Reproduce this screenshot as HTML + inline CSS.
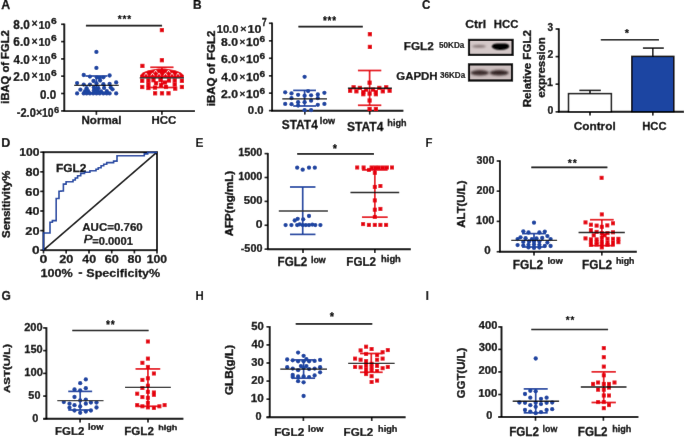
<!DOCTYPE html>
<html><head><meta charset="utf-8"><style>
html,body{margin:0;padding:0;background:#fff;width:685px;height:437px;overflow:hidden}
svg{display:block}
text{font-family:"Liberation Sans",sans-serif;white-space:pre;stroke:currentColor;stroke-width:0.25px}
</style></head><body>
<svg width="685" height="437" viewBox="0 0 685 437">
<defs><filter id="soft" x="0" y="0" width="100%" height="100%" filterUnits="userSpaceOnUse"><feConvolveMatrix order="3" kernelMatrix="0.0016 0.0371 0.0016 0.0371 0.8450 0.0371 0.0016 0.0371 0.0016" preserveAlpha="true" edgeMode="duplicate"/></filter></defs>
<g filter="url(#soft)">
<rect width="685" height="437" fill="#fff"/>
<text transform="translate(1.19,8.8) scale(1.042,1)" font-size="11.88" font-weight="bold" fill="#000" color="#000">A</text>
<line x1="64.3" y1="23.6" x2="64.3" y2="111.6" stroke="#000" stroke-width="1.9"/>
<line x1="61.1" y1="24.3" x2="64.3" y2="24.3" stroke="#000" stroke-width="1.6"/>
<line x1="61.1" y1="41.6" x2="64.3" y2="41.6" stroke="#000" stroke-width="1.6"/>
<line x1="61.1" y1="58.9" x2="64.3" y2="58.9" stroke="#000" stroke-width="1.6"/>
<line x1="61.1" y1="76.2" x2="64.3" y2="76.2" stroke="#000" stroke-width="1.6"/>
<line x1="61.1" y1="93.5" x2="64.3" y2="93.5" stroke="#000" stroke-width="1.6"/>
<line x1="61.1" y1="110.9" x2="64.3" y2="110.9" stroke="#000" stroke-width="1.6"/>
<line x1="63.5" y1="111.1" x2="195" y2="111.1" stroke="#000" stroke-width="1.9"/>
<line x1="96.4" y1="111.1" x2="96.4" y2="114.8" stroke="#000" stroke-width="1.6"/>
<line x1="161.9" y1="111.1" x2="161.9" y2="114.8" stroke="#000" stroke-width="1.6"/>
<text transform="translate(13.35,29.1) scale(0.997,1)" font-size="11.86" font-weight="bold" fill="#000" color="#000">8.0</text>
<text transform="translate(31.43,27.33) scale(1.010,1)" font-size="10.40" font-weight="bold" fill="#000" color="#000">×</text>
<text transform="translate(38.49,28.9) scale(0.970,1)" font-size="11.29" font-weight="bold" fill="#000" color="#000">10</text>
<text transform="translate(50.94,23.9) scale(1.128,1)" font-size="9.14" font-weight="bold" fill="#000" color="#000">6</text>
<text transform="translate(13.28,46.4) scale(1.001,1)" font-size="11.86" font-weight="bold" fill="#000" color="#000">6.0</text>
<text transform="translate(31.43,44.63) scale(1.010,1)" font-size="10.40" font-weight="bold" fill="#000" color="#000">×</text>
<text transform="translate(38.49,46.2) scale(0.970,1)" font-size="11.29" font-weight="bold" fill="#000" color="#000">10</text>
<text transform="translate(50.94,41.2) scale(1.128,1)" font-size="9.14" font-weight="bold" fill="#000" color="#000">6</text>
<text transform="translate(13.52,63.7) scale(0.986,1)" font-size="11.86" font-weight="bold" fill="#000" color="#000">4.0</text>
<text transform="translate(31.43,61.93) scale(1.010,1)" font-size="10.40" font-weight="bold" fill="#000" color="#000">×</text>
<text transform="translate(38.49,63.5) scale(0.970,1)" font-size="11.29" font-weight="bold" fill="#000" color="#000">10</text>
<text transform="translate(50.94,58.5) scale(1.128,1)" font-size="9.14" font-weight="bold" fill="#000" color="#000">6</text>
<text transform="translate(13.28,81) scale(1.001,1)" font-size="11.86" font-weight="bold" fill="#000" color="#000">2.0</text>
<text transform="translate(31.43,79.23) scale(1.010,1)" font-size="10.40" font-weight="bold" fill="#000" color="#000">×</text>
<text transform="translate(38.49,80.8) scale(0.970,1)" font-size="11.29" font-weight="bold" fill="#000" color="#000">10</text>
<text transform="translate(50.94,75.8) scale(1.128,1)" font-size="9.14" font-weight="bold" fill="#000" color="#000">6</text>
<text transform="translate(40.04,99.1) scale(0.944,1)" font-size="12.29" font-weight="bold" fill="#000" color="#000">0.0</text>
<text transform="translate(16.76,116.9) scale(0.893,1)" font-size="12.43" font-weight="bold" fill="#000" color="#000">-2.0</text>
<text transform="translate(35.92,115.63) scale(1.030,1)" font-size="10.40" font-weight="bold" fill="#000" color="#000">×</text>
<text transform="translate(42.02,116.9) scale(0.841,1)" font-size="12.43" font-weight="bold" fill="#000" color="#000">10</text>
<text transform="translate(53.98,113) scale(1.048,1)" font-size="8.86" font-weight="bold" fill="#000" color="#000">6</text>
<text transform="translate(9.3,103.69) rotate(-90) scale(1.017,1)" font-size="11.03" font-weight="bold" fill="#000" color="#000" style="stroke-width:0.35px">iBAQ of FGL2</text>
<text transform="translate(81.45,124.4) scale(1.038,1)" font-size="11.17" font-weight="bold" fill="#000" color="#000">Normal</text>
<text transform="translate(151.55,123.9) scale(1.029,1)" font-size="11.14" font-weight="bold" fill="#000" color="#000">HCC</text>
<line x1="85.9" y1="25.6" x2="162.1" y2="25.6" stroke="#000" stroke-width="1.7"/>
<text transform="translate(117.75,23.35) scale(0.910,1)" font-size="11.08" font-weight="bold" fill="#000" color="#000" style="stroke-width:0.2px">*</text>
<text transform="translate(122.48,23.35) scale(0.910,1)" font-size="11.08" font-weight="bold" fill="#000" color="#000" style="stroke-width:0.2px">*</text>
<text transform="translate(127.22,23.35) scale(0.910,1)" font-size="11.08" font-weight="bold" fill="#000" color="#000" style="stroke-width:0.2px">*</text>
<line x1="96.4" y1="76" x2="96.4" y2="93" stroke="#1c45a2" stroke-width="1.7"/>
<line x1="85.4" y1="76" x2="107.4" y2="76" stroke="#1c45a2" stroke-width="1.7"/>
<line x1="85.4" y1="93" x2="107.4" y2="93" stroke="#1c45a2" stroke-width="1.7"/>
<circle cx="96.4" cy="51.9" r="2.15" fill="#1c45a2"/>
<circle cx="96.4" cy="67.9" r="2.15" fill="#1c45a2"/>
<circle cx="83.7" cy="75" r="2.15" fill="#1c45a2"/>
<circle cx="89.9" cy="76.6" r="2.15" fill="#1c45a2"/>
<circle cx="96.8" cy="77.3" r="2.15" fill="#1c45a2"/>
<circle cx="99.7" cy="78" r="2.15" fill="#1c45a2"/>
<circle cx="103.4" cy="77.3" r="2.15" fill="#1c45a2"/>
<circle cx="109.6" cy="75.5" r="2.15" fill="#1c45a2"/>
<circle cx="93.5" cy="81" r="2.15" fill="#1c45a2"/>
<circle cx="100.1" cy="80.6" r="2.15" fill="#1c45a2"/>
<circle cx="77.1" cy="83.1" r="2.15" fill="#1c45a2"/>
<circle cx="83.7" cy="84.6" r="2.15" fill="#1c45a2"/>
<circle cx="89.9" cy="84.6" r="2.15" fill="#1c45a2"/>
<circle cx="96.5" cy="83.5" r="2.15" fill="#1c45a2"/>
<circle cx="103.4" cy="84.2" r="2.15" fill="#1c45a2"/>
<circle cx="109.6" cy="83.9" r="2.15" fill="#1c45a2"/>
<circle cx="116.2" cy="82.4" r="2.15" fill="#1c45a2"/>
<circle cx="80.4" cy="89.7" r="2.15" fill="#1c45a2"/>
<circle cx="86.6" cy="88.2" r="2.15" fill="#1c45a2"/>
<circle cx="93.9" cy="87.5" r="2.15" fill="#1c45a2"/>
<circle cx="98.3" cy="88.2" r="2.15" fill="#1c45a2"/>
<circle cx="104.1" cy="87.9" r="2.15" fill="#1c45a2"/>
<circle cx="110.7" cy="87.5" r="2.15" fill="#1c45a2"/>
<circle cx="112.5" cy="89.3" r="2.15" fill="#1c45a2"/>
<circle cx="93.9" cy="90.4" r="2.15" fill="#1c45a2"/>
<circle cx="96.8" cy="89.7" r="2.15" fill="#1c45a2"/>
<circle cx="106.8" cy="91.2" r="2.15" fill="#1c45a2"/>
<circle cx="88.2" cy="91.2" r="2.15" fill="#1c45a2"/>
<circle cx="85.1" cy="91.2" r="2.15" fill="#1c45a2"/>
<circle cx="97.5" cy="91.5" r="2.15" fill="#1c45a2"/>
<circle cx="101" cy="91.5" r="2.15" fill="#1c45a2"/>
<circle cx="77.1" cy="93.4" r="2.15" fill="#1c45a2"/>
<circle cx="83.7" cy="93.4" r="2.15" fill="#1c45a2"/>
<circle cx="86.6" cy="93.4" r="2.15" fill="#1c45a2"/>
<circle cx="89.9" cy="93.4" r="2.15" fill="#1c45a2"/>
<circle cx="93.2" cy="93.4" r="2.15" fill="#1c45a2"/>
<circle cx="96.5" cy="93.4" r="2.15" fill="#1c45a2"/>
<circle cx="99.7" cy="93.4" r="2.15" fill="#1c45a2"/>
<circle cx="103.4" cy="93.4" r="2.15" fill="#1c45a2"/>
<circle cx="106.7" cy="93.4" r="2.15" fill="#1c45a2"/>
<circle cx="109.6" cy="93.4" r="2.15" fill="#1c45a2"/>
<circle cx="116.2" cy="93.4" r="2.15" fill="#1c45a2"/>
<line x1="74.2" y1="85.3" x2="118.7" y2="85.3" stroke="#111" stroke-width="1.35"/>
<rect x="159.8" y="28" width="4.2" height="4.2" fill="#e5000f"/>
<rect x="159.8" y="58.1" width="4.2" height="4.2" fill="#e5000f"/>
<rect x="140.3" y="63.8" width="4.2" height="4.2" fill="#e5000f"/>
<polygon fill="#e5000f" points="140,77.4 140,75.2 142.7,72.4 148.4,70.2 158.7,68.5 164.9,68.5 175.2,70.2 180.9,72.4 184,75.2 184,77.4"/>
<polyline fill="none" stroke="#fff" stroke-width="0.75" points="144.3,75.6 146,73 147.7,75.6"/>
<polyline fill="none" stroke="#fff" stroke-width="0.75" points="150.8,75.6 152.5,73 154.2,75.6"/>
<polyline fill="none" stroke="#fff" stroke-width="0.75" points="157.3,75.6 159,73 160.7,75.6"/>
<polyline fill="none" stroke="#fff" stroke-width="0.75" points="163.8,75.6 165.5,73 167.2,75.6"/>
<polyline fill="none" stroke="#fff" stroke-width="0.75" points="170.3,75.6 172,73 173.7,75.6"/>
<polyline fill="none" stroke="#fff" stroke-width="0.75" points="176.3,75.6 178,73 179.7,75.6"/>
<polyline fill="none" stroke="#fff" stroke-width="0.75" points="154,72.6 155.7,70 157.4,72.6"/>
<polyline fill="none" stroke="#fff" stroke-width="0.75" points="166.8,72.6 168.5,70 170.2,72.6"/>
<rect x="140.1" y="78.7" width="4.2" height="4.2" fill="#e5000f"/>
<rect x="140.1" y="84.9" width="4.2" height="4.2" fill="#e5000f"/>
<rect x="146.3" y="78.4" width="4.2" height="4.2" fill="#e5000f"/>
<rect x="146.3" y="82.2" width="4.2" height="4.2" fill="#e5000f"/>
<rect x="146.3" y="85.9" width="4.2" height="4.2" fill="#e5000f"/>
<rect x="151.4" y="78.1" width="4.2" height="4.2" fill="#e5000f"/>
<rect x="153.9" y="81.1" width="4.2" height="4.2" fill="#e5000f"/>
<rect x="158.4" y="78.1" width="4.2" height="4.2" fill="#e5000f"/>
<rect x="158.9" y="83.1" width="4.2" height="4.2" fill="#e5000f"/>
<rect x="162.9" y="80.4" width="4.2" height="4.2" fill="#e5000f"/>
<rect x="166.9" y="78.4" width="4.2" height="4.2" fill="#e5000f"/>
<rect x="163.9" y="84.9" width="4.2" height="4.2" fill="#e5000f"/>
<rect x="152.9" y="85.5" width="4.2" height="4.2" fill="#e5000f"/>
<rect x="172.6" y="78.4" width="4.2" height="4.2" fill="#e5000f"/>
<rect x="172.6" y="82.4" width="4.2" height="4.2" fill="#e5000f"/>
<rect x="173.1" y="86.5" width="4.2" height="4.2" fill="#e5000f"/>
<rect x="179.8" y="78.7" width="4.2" height="4.2" fill="#e5000f"/>
<rect x="179.8" y="84.9" width="4.2" height="4.2" fill="#e5000f"/>
<rect x="153" y="91.2" width="4.2" height="4.2" fill="#e5000f"/>
<rect x="159.9" y="91.2" width="4.2" height="4.2" fill="#e5000f"/>
<rect x="166.4" y="91.2" width="4.2" height="4.2" fill="#e5000f"/>
<line x1="161.9" y1="67.3" x2="161.9" y2="87.5" stroke="#e5000f" stroke-width="1.7"/>
<line x1="150.3" y1="67.3" x2="173.5" y2="67.3" stroke="#e5000f" stroke-width="1.7"/>
<line x1="150.3" y1="87.5" x2="173.5" y2="87.5" stroke="#e5000f" stroke-width="1.7"/>
<line x1="139.7" y1="77.8" x2="184" y2="77.8" stroke="#111" stroke-width="1.35"/>
<text transform="translate(193.02,8.9) scale(1.007,1)" font-size="11.88" font-weight="bold" fill="#000" color="#000">B</text>
<line x1="272.1" y1="22.6" x2="272.1" y2="111.3" stroke="#000" stroke-width="1.9"/>
<line x1="268.9" y1="23.3" x2="272.1" y2="23.3" stroke="#000" stroke-width="1.6"/>
<line x1="268.9" y1="40.8" x2="272.1" y2="40.8" stroke="#000" stroke-width="1.6"/>
<line x1="268.9" y1="58.3" x2="272.1" y2="58.3" stroke="#000" stroke-width="1.6"/>
<line x1="268.9" y1="75.8" x2="272.1" y2="75.8" stroke="#000" stroke-width="1.6"/>
<line x1="268.9" y1="93.2" x2="272.1" y2="93.2" stroke="#000" stroke-width="1.6"/>
<line x1="268.9" y1="110.6" x2="272.1" y2="110.6" stroke="#000" stroke-width="1.6"/>
<line x1="271.2" y1="110.8" x2="403.4" y2="110.8" stroke="#000" stroke-width="1.9"/>
<line x1="304.8" y1="110.8" x2="304.8" y2="114.5" stroke="#000" stroke-width="1.6"/>
<line x1="369.7" y1="110.8" x2="369.7" y2="114.5" stroke="#000" stroke-width="1.6"/>
<text transform="translate(216.67,32.9) scale(1.005,1)" font-size="11.14" font-weight="bold" fill="#000" color="#000">10.0</text>
<text transform="translate(240.22,32.18) scale(1.093,1)" font-size="9.80" font-weight="bold" fill="#000" color="#000">×</text>
<text transform="translate(247.49,32.9) scale(1.125,1)" font-size="11.14" font-weight="bold" fill="#000" color="#000">10</text>
<text transform="translate(261.69,25.9) scale(0.809,1)" font-size="11.16" font-weight="bold" fill="#000" color="#000">7</text>
<text transform="translate(221.03,45.6) scale(1.123,1)" font-size="10.86" font-weight="bold" fill="#000" color="#000">8.0</text>
<text transform="translate(239.55,44.77) scale(1.031,1)" font-size="9.60" font-weight="bold" fill="#000" color="#000">×</text>
<text transform="translate(246.12,45.6) scale(1.109,1)" font-size="10.86" font-weight="bold" fill="#000" color="#000">10</text>
<text transform="translate(259.45,41.6) scale(1.179,1)" font-size="8.57" font-weight="bold" fill="#000" color="#000">6</text>
<text transform="translate(220.97,63.1) scale(1.128,1)" font-size="10.86" font-weight="bold" fill="#000" color="#000">6.0</text>
<text transform="translate(239.55,62.27) scale(1.031,1)" font-size="9.60" font-weight="bold" fill="#000" color="#000">×</text>
<text transform="translate(246.12,63.1) scale(1.109,1)" font-size="10.86" font-weight="bold" fill="#000" color="#000">10</text>
<text transform="translate(259.45,59.1) scale(1.179,1)" font-size="8.57" font-weight="bold" fill="#000" color="#000">6</text>
<text transform="translate(221.22,80.6) scale(1.111,1)" font-size="10.86" font-weight="bold" fill="#000" color="#000">4.0</text>
<text transform="translate(239.55,79.77) scale(1.031,1)" font-size="9.60" font-weight="bold" fill="#000" color="#000">×</text>
<text transform="translate(246.12,80.6) scale(1.109,1)" font-size="10.86" font-weight="bold" fill="#000" color="#000">10</text>
<text transform="translate(259.45,76.6) scale(1.179,1)" font-size="8.57" font-weight="bold" fill="#000" color="#000">6</text>
<text transform="translate(220.97,98) scale(1.128,1)" font-size="10.86" font-weight="bold" fill="#000" color="#000">2.0</text>
<text transform="translate(239.55,97.17) scale(1.031,1)" font-size="9.60" font-weight="bold" fill="#000" color="#000">×</text>
<text transform="translate(246.12,98) scale(1.109,1)" font-size="10.86" font-weight="bold" fill="#000" color="#000">10</text>
<text transform="translate(259.45,94) scale(1.179,1)" font-size="8.57" font-weight="bold" fill="#000" color="#000">6</text>
<text transform="translate(247.85,114) scale(1.106,1)" font-size="10.29" font-weight="bold" fill="#000" color="#000">0.0</text>
<text transform="translate(214.7,106.31) rotate(-90) scale(1.035,1)" font-size="11.17" font-weight="bold" fill="#000" color="#000" style="stroke-width:0.35px">iBAQ of FGL2</text>
<text transform="translate(281.74,128.7) scale(0.985,1)" font-size="12.14" font-weight="bold" fill="#000" color="#000">STAT4</text>
<text transform="translate(319.87,124.1) scale(1.095,1)" font-size="8.28" font-weight="bold" fill="#000" color="#000">low</text>
<text transform="translate(346.94,130.9) scale(1.008,1)" font-size="12.00" font-weight="bold" fill="#000" color="#000">STAT4</text>
<text transform="translate(387.36,126.28) scale(0.950,1)" font-size="9.63" font-weight="bold" fill="#000" color="#000">high</text>
<line x1="298.4" y1="26.6" x2="362.8" y2="26.6" stroke="#000" stroke-width="1.7"/>
<text transform="translate(322.95,25.21) scale(0.834,1)" font-size="11.89" font-weight="bold" fill="#000" color="#000" style="stroke-width:0.2px">*</text>
<text transform="translate(327.62,25.21) scale(0.834,1)" font-size="11.89" font-weight="bold" fill="#000" color="#000" style="stroke-width:0.2px">*</text>
<text transform="translate(332.28,25.21) scale(0.834,1)" font-size="11.89" font-weight="bold" fill="#000" color="#000" style="stroke-width:0.2px">*</text>
<line x1="304.6" y1="90.4" x2="304.6" y2="106" stroke="#1c45a2" stroke-width="1.7"/>
<line x1="293.2" y1="90.4" x2="316" y2="90.4" stroke="#1c45a2" stroke-width="1.7"/>
<line x1="293.2" y1="106" x2="316" y2="106" stroke="#1c45a2" stroke-width="1.7"/>
<circle cx="304.6" cy="76.8" r="2.15" fill="#1c45a2"/>
<circle cx="285.2" cy="92.3" r="2.15" fill="#1c45a2"/>
<circle cx="291.5" cy="93.4" r="2.15" fill="#1c45a2"/>
<circle cx="298.1" cy="94.8" r="2.15" fill="#1c45a2"/>
<circle cx="304.6" cy="95.7" r="2.15" fill="#1c45a2"/>
<circle cx="308.1" cy="91.1" r="2.15" fill="#1c45a2"/>
<circle cx="311.1" cy="95.3" r="2.15" fill="#1c45a2"/>
<circle cx="317.8" cy="94.5" r="2.15" fill="#1c45a2"/>
<circle cx="324.4" cy="92.8" r="2.15" fill="#1c45a2"/>
<circle cx="291.5" cy="98.2" r="2.15" fill="#1c45a2"/>
<circle cx="317.8" cy="98.2" r="2.15" fill="#1c45a2"/>
<circle cx="285.2" cy="103.9" r="2.15" fill="#1c45a2"/>
<circle cx="291.5" cy="104.2" r="2.15" fill="#1c45a2"/>
<circle cx="298.1" cy="102.2" r="2.15" fill="#1c45a2"/>
<circle cx="298.1" cy="105.6" r="2.15" fill="#1c45a2"/>
<circle cx="304.6" cy="102.2" r="2.15" fill="#1c45a2"/>
<circle cx="311.1" cy="100.7" r="2.15" fill="#1c45a2"/>
<circle cx="317.8" cy="104.8" r="2.15" fill="#1c45a2"/>
<circle cx="324.4" cy="103.9" r="2.15" fill="#1c45a2"/>
<circle cx="304.6" cy="110.2" r="2.15" fill="#1c45a2"/>
<circle cx="311.1" cy="110.2" r="2.15" fill="#1c45a2"/>
<line x1="282.3" y1="98.8" x2="327" y2="98.8" stroke="#111" stroke-width="1.35"/>
<line x1="369.6" y1="70.5" x2="369.6" y2="105.3" stroke="#e5000f" stroke-width="1.7"/>
<line x1="357.9" y1="70.5" x2="381.3" y2="70.5" stroke="#e5000f" stroke-width="1.7"/>
<line x1="357.9" y1="105.3" x2="381.3" y2="105.3" stroke="#e5000f" stroke-width="1.7"/>
<rect x="367.8" y="32.1" width="4.2" height="4.2" fill="#e5000f"/>
<rect x="367.8" y="44.8" width="4.2" height="4.2" fill="#e5000f"/>
<rect x="367.5" y="80.6" width="4.2" height="4.2" fill="#e5000f"/>
<rect x="348" y="88.6" width="4.2" height="4.2" fill="#e5000f"/>
<rect x="351.5" y="85.2" width="4.2" height="4.2" fill="#e5000f"/>
<rect x="354.3" y="89.2" width="4.2" height="4.2" fill="#e5000f"/>
<rect x="357.8" y="85.8" width="4.2" height="4.2" fill="#e5000f"/>
<rect x="361.2" y="92.1" width="4.2" height="4.2" fill="#e5000f"/>
<rect x="364.1" y="87.5" width="4.2" height="4.2" fill="#e5000f"/>
<rect x="367.5" y="91.5" width="4.2" height="4.2" fill="#e5000f"/>
<rect x="370.9" y="87.5" width="4.2" height="4.2" fill="#e5000f"/>
<rect x="373.8" y="92.1" width="4.2" height="4.2" fill="#e5000f"/>
<rect x="377.2" y="85.8" width="4.2" height="4.2" fill="#e5000f"/>
<rect x="380.7" y="89.2" width="4.2" height="4.2" fill="#e5000f"/>
<rect x="384.1" y="85.2" width="4.2" height="4.2" fill="#e5000f"/>
<rect x="387.5" y="88.6" width="4.2" height="4.2" fill="#e5000f"/>
<rect x="367.5" y="98.4" width="4.2" height="4.2" fill="#e5000f"/>
<rect x="367.5" y="106.9" width="4.2" height="4.2" fill="#e5000f"/>
<rect x="373.8" y="106.9" width="4.2" height="4.2" fill="#e5000f"/>
<rect x="361.2" y="89.9" width="4.2" height="4.2" fill="#e5000f"/>
<rect x="373.8" y="89.9" width="4.2" height="4.2" fill="#e5000f"/>
<line x1="347.9" y1="88.2" x2="391.9" y2="88.2" stroke="#111" stroke-width="1.35"/>
<text transform="translate(422.04,8.9) scale(0.967,1)" font-size="12.00" font-weight="bold" fill="#000" color="#000">C</text>
<text transform="translate(465.21,27.8) scale(1.076,1)" font-size="11.31" font-weight="bold" fill="#000" color="#000">Ctrl</text>
<text transform="translate(493.86,27.8) scale(0.971,1)" font-size="11.71" font-weight="bold" fill="#000" color="#000">HCC</text>
<text transform="translate(403.84,50.3) scale(1.000,1)" font-size="11.71" font-weight="bold" fill="#000" color="#000" style="stroke-width:0.25px">FGL2</text>
<text transform="translate(438.96,47.9) scale(0.984,1)" font-size="8.29" font-weight="bold" fill="#000" color="#000" style="stroke-width:0.15px">50KDa</text>
<text transform="translate(396.24,79.7) scale(1.029,1)" font-size="11.14" font-weight="bold" fill="#000" color="#000" style="stroke-width:0.25px">GAPDH</text>
<text transform="translate(440,78.1) scale(0.979,1)" font-size="8.29" font-weight="bold" fill="#000" color="#000" style="stroke-width:0.15px">36KDa</text>
<defs>
<linearGradient id="bg1" x1="0" y1="0" x2="0" y2="1"><stop offset="0" stop-color="#d9cfcf"/><stop offset="1" stop-color="#cfc5c5"/></linearGradient>
<filter id="bl" x="-30%" y="-60%" width="160%" height="220%"><feGaussianBlur stdDeviation="0.9"/></filter>
<filter id="bl2" x="-30%" y="-60%" width="160%" height="220%"><feConvolveMatrix order="3" kernelMatrix="0.06 0.12 0.06 0.12 0.28 0.12 0.06 0.12 0.06" preserveAlpha="false" edgeMode="none"/></filter>
</defs>
<rect x="469" y="39.9" width="43.6" height="15" fill="#d4c8c8" stroke="#000" stroke-width="2.2" />
<rect x="469" y="64.4" width="43" height="16.1" fill="#cbbebe" stroke="#000" stroke-width="2.2" />
<ellipse cx="479" cy="46.3" rx="7" ry="1.3" fill="#7a6a6a" filter="url(#bl)"/>
<path d="M491.6,46.6 Q492.5,43.6 497,43.5 L505.5,43.5 Q509.4,44 509.2,46.8 Q508.6,49.8 500,50.1 Q493,49.8 491.6,46.6 Z" fill="#050202" filter="url(#bl2)"/>
<ellipse cx="479.8" cy="72.8" rx="9.2" ry="2.7" fill="#3e2e2e" filter="url(#bl)"/>
<ellipse cx="499.2" cy="72.8" rx="9.6" ry="2.7" fill="#362828" filter="url(#bl)"/>
<line x1="558.8" y1="28.3" x2="558.8" y2="112.5" stroke="#000" stroke-width="1.9"/>
<line x1="555.6" y1="29" x2="558.8" y2="29" stroke="#000" stroke-width="1.6"/>
<line x1="555.6" y1="56.6" x2="558.8" y2="56.6" stroke="#000" stroke-width="1.6"/>
<line x1="555.6" y1="84.2" x2="558.8" y2="84.2" stroke="#000" stroke-width="1.6"/>
<line x1="555.6" y1="111.8" x2="558.8" y2="111.8" stroke="#000" stroke-width="1.6"/>
<line x1="558" y1="111.8" x2="684" y2="111.8" stroke="#000" stroke-width="1.9"/>
<line x1="590" y1="111.8" x2="590" y2="115.5" stroke="#000" stroke-width="1.6"/>
<line x1="652.8" y1="111.8" x2="652.8" y2="115.5" stroke="#000" stroke-width="1.6"/>
<text transform="translate(547.55,30.7) scale(0.918,1)" font-size="11.00" font-weight="bold" fill="#000" color="#000">3</text>
<text transform="translate(547.44,58.3) scale(0.947,1)" font-size="11.00" font-weight="bold" fill="#000" color="#000">2</text>
<text transform="translate(547.1,85.9) scale(0.964,1)" font-size="11.16" font-weight="bold" fill="#000" color="#000">1</text>
<text transform="translate(547.38,113.5) scale(0.957,1)" font-size="11.00" font-weight="bold" fill="#000" color="#000">0</text>
<text transform="translate(530.9,107.35) rotate(-90) scale(1.013,1)" font-size="11.45" font-weight="bold" fill="#000" color="#000" style="stroke-width:0.35px">Relative FGL2</text>
<text transform="translate(544.5,97.86) rotate(-90) scale(1.005,1)" font-size="11.45" font-weight="bold" fill="#000" color="#000" style="stroke-width:0.35px">expression</text>
<rect x="568.5" y="93.6" width="42.9" height="18.2" fill="#fff" stroke="#000" stroke-width="1.5" />
<rect x="631.8" y="56.4" width="42" height="55.4" fill="#1c45a2" stroke="#000" stroke-width="1.5" />
<line x1="590" y1="93.6" x2="590" y2="90.4" stroke="#000" stroke-width="1.5"/>
<line x1="579.4" y1="90.4" x2="600.8" y2="90.4" stroke="#000" stroke-width="1.5"/>
<line x1="652.8" y1="56.4" x2="652.8" y2="48.1" stroke="#000" stroke-width="1.5"/>
<line x1="642.9" y1="48.1" x2="663.8" y2="48.1" stroke="#000" stroke-width="1.5"/>
<line x1="600.8" y1="39.75" x2="659" y2="39.75" stroke="#000" stroke-width="1.7"/>
<text transform="translate(624.74,36.75) scale(0.997,1)" font-size="11.08" font-weight="bold" fill="#000" color="#000" style="stroke-width:0.2px">*</text>
<text transform="translate(573.63,130.2) scale(1.088,1)" font-size="10.90" font-weight="bold" fill="#000" color="#000">Control</text>
<text transform="translate(642.17,130.2) scale(0.995,1)" font-size="11.29" font-weight="bold" fill="#000" color="#000">HCC</text>
<text transform="translate(1.19,147) scale(1.005,1)" font-size="12.46" font-weight="bold" fill="#000" color="#000">D</text>
<rect x="43.5" y="152.2" width="113.5" height="98" fill="none" stroke="#000" stroke-width="1.9"/>
<line x1="40.3" y1="152.2" x2="43.5" y2="152.2" stroke="#000" stroke-width="1.6"/>
<line x1="40.3" y1="171.8" x2="43.5" y2="171.8" stroke="#000" stroke-width="1.6"/>
<line x1="40.3" y1="191.4" x2="43.5" y2="191.4" stroke="#000" stroke-width="1.6"/>
<line x1="40.3" y1="211" x2="43.5" y2="211" stroke="#000" stroke-width="1.6"/>
<line x1="40.3" y1="230.6" x2="43.5" y2="230.6" stroke="#000" stroke-width="1.6"/>
<line x1="40.3" y1="250.2" x2="43.5" y2="250.2" stroke="#000" stroke-width="1.6"/>
<line x1="43.5" y1="250.2" x2="43.5" y2="253.4" stroke="#000" stroke-width="1.6"/>
<line x1="66.2" y1="250.2" x2="66.2" y2="253.4" stroke="#000" stroke-width="1.6"/>
<line x1="89" y1="250.2" x2="89" y2="253.4" stroke="#000" stroke-width="1.6"/>
<line x1="111.7" y1="250.2" x2="111.7" y2="253.4" stroke="#000" stroke-width="1.6"/>
<line x1="134.4" y1="250.2" x2="134.4" y2="253.4" stroke="#000" stroke-width="1.6"/>
<line x1="157" y1="250.2" x2="157" y2="253.4" stroke="#000" stroke-width="1.6"/>
<text transform="translate(19.31,156.4) scale(1.047,1)" font-size="11.57" font-weight="bold" fill="#000" color="#000">100</text>
<text transform="translate(25.42,176) scale(1.097,1)" font-size="11.57" font-weight="bold" fill="#000" color="#000">80</text>
<text transform="translate(25.35,195.6) scale(1.102,1)" font-size="11.57" font-weight="bold" fill="#000" color="#000">60</text>
<text transform="translate(25.61,215.2) scale(1.081,1)" font-size="11.57" font-weight="bold" fill="#000" color="#000">40</text>
<text transform="translate(25.35,234.8) scale(1.102,1)" font-size="11.57" font-weight="bold" fill="#000" color="#000">20</text>
<text transform="translate(31.95,254.4) scale(1.183,1)" font-size="11.57" font-weight="bold" fill="#000" color="#000">0</text>
<text transform="translate(39.59,262.9) scale(1.234,1)" font-size="11.43" font-weight="bold" fill="#000" color="#000">0</text>
<text transform="translate(59.21,262.9) scale(1.107,1)" font-size="11.43" font-weight="bold" fill="#000" color="#000">20</text>
<text transform="translate(82.26,262.9) scale(1.086,1)" font-size="11.43" font-weight="bold" fill="#000" color="#000">40</text>
<text transform="translate(104.71,262.9) scale(1.107,1)" font-size="11.43" font-weight="bold" fill="#000" color="#000">60</text>
<text transform="translate(127.47,262.9) scale(1.102,1)" font-size="11.43" font-weight="bold" fill="#000" color="#000">80</text>
<text transform="translate(146.71,262.9) scale(1.066,1)" font-size="11.43" font-weight="bold" fill="#000" color="#000">100</text>
<text transform="translate(9.8,237.94) rotate(-90) scale(1.036,1)" font-size="11.03" font-weight="bold" fill="#000" color="#000" style="stroke-width:0.35px">Sensitivity%</text>
<text transform="translate(40.38,276.6) scale(1.095,1)" font-size="11.57" font-weight="bold" fill="#000" color="#000">100%</text>
<rect x="78.6" y="272.2" width="3.6" height="1.7" fill="#000" />
<text transform="translate(86.32,276.6) scale(1.124,1)" font-size="11.17" font-weight="bold" fill="#000" color="#000">Specificity%</text>
<text transform="translate(55.92,171.6) scale(1.147,1)" font-size="10.43" font-weight="bold" fill="#000" color="#000">FGL2</text>
<text transform="translate(82.31,231.3) scale(1.047,1)" font-size="11.00" font-weight="bold" fill="#000" color="#000" style="stroke-width:0.22px">AUC=0.760</text>
<text transform="translate(83.71,242.5) scale(1.265,1)" font-size="10.29" font-weight="normal" font-style="italic" fill="#000" color="#000" style="stroke-width:0.5px">P</text>
<text transform="translate(92.15,245.1) scale(1.017,1)" font-size="11.00" font-weight="bold" fill="#000" color="#000" style="stroke-width:0.22px">=0.0001</text>
<line x1="43.5" y1="250.2" x2="157" y2="152.2" stroke="#000" stroke-width="1.6"/>
<polyline fill="none" stroke="#1c45a2" stroke-width="1.6" points="43.5,250.3 43.5,233 50,233 50,222.3 52.4,222.3 52.4,220.6 56.2,220.6 56.2,198.5 59,198.5 59,191.3 61,191.3 61,191 63.4,191 63.4,184.1 66.1,184.1 66.1,181.8 73,181.8 73,180 75.3,180 75.3,178 77.6,178 77.6,175.7 80.7,175.7 80.7,173.4 84.5,173.4 84.5,172.3 89.9,172.3 89.9,170.8 96,170.8 96,169.2 98.3,169.2 98.3,167.7 101.1,167.7 101.1,165.7 103.7,165.7 103.7,164.2 106.7,164.2 106.7,162.6 113.6,162.6 113.6,161.1 117,161.1 117,155.7 144.3,155.7 144.3,153.9 147.7,153.9 147.7,152.4 157,152.4"/>
<text transform="translate(195.42,147) scale(0.966,1)" font-size="12.46" font-weight="bold" fill="#000" color="#000" style="stroke-width:0px">E</text>
<line x1="267.8" y1="152.9" x2="267.8" y2="249.9" stroke="#000" stroke-width="1.9"/>
<line x1="264.6" y1="153.6" x2="267.8" y2="153.6" stroke="#000" stroke-width="1.6"/>
<line x1="264.6" y1="177.5" x2="267.8" y2="177.5" stroke="#000" stroke-width="1.6"/>
<line x1="264.6" y1="201.4" x2="267.8" y2="201.4" stroke="#000" stroke-width="1.6"/>
<line x1="264.6" y1="225.3" x2="267.8" y2="225.3" stroke="#000" stroke-width="1.6"/>
<line x1="264.6" y1="249.2" x2="267.8" y2="249.2" stroke="#000" stroke-width="1.6"/>
<line x1="267" y1="249.2" x2="410.8" y2="249.2" stroke="#000" stroke-width="1.9"/>
<line x1="303" y1="249.2" x2="303" y2="252.9" stroke="#000" stroke-width="1.6"/>
<line x1="374.8" y1="249.2" x2="374.8" y2="252.9" stroke="#000" stroke-width="1.6"/>
<text transform="translate(238.19,156.2) scale(1.004,1)" font-size="10.86" font-weight="bold" fill="#000" color="#000">1500</text>
<text transform="translate(238.19,180.1) scale(1.004,1)" font-size="10.86" font-weight="bold" fill="#000" color="#000">1000</text>
<text transform="translate(243.66,204) scale(1.039,1)" font-size="10.86" font-weight="bold" fill="#000" color="#000">500</text>
<text transform="translate(255.71,227.9) scale(1.125,1)" font-size="10.86" font-weight="bold" fill="#000" color="#000">0</text>
<text transform="translate(240.77,251.8) scale(0.998,1)" font-size="10.86" font-weight="bold" fill="#000" color="#000">-500</text>
<text transform="translate(232.9,236.29) rotate(-90) scale(1.103,1)" font-size="10.48" font-weight="bold" fill="#000" color="#000" style="stroke-width:0.35px">AFP(ng/mL)</text>
<line x1="297.2" y1="153.85" x2="374" y2="153.85" stroke="#000" stroke-width="1.7"/>
<text transform="translate(332.75,153.21) scale(0.907,1)" font-size="11.89" font-weight="bold" fill="#000" color="#000" style="stroke-width:0.2px">*</text>
<line x1="302.7" y1="187" x2="302.7" y2="234.4" stroke="#1c45a2" stroke-width="1.7"/>
<line x1="289.95" y1="187" x2="315.45" y2="187" stroke="#1c45a2" stroke-width="1.7"/>
<line x1="289.95" y1="234.4" x2="315.45" y2="234.4" stroke="#1c45a2" stroke-width="1.7"/>
<circle cx="297.2" cy="167.7" r="2.15" fill="#1c45a2"/>
<circle cx="302.7" cy="169.7" r="2.15" fill="#1c45a2"/>
<circle cx="309" cy="167.7" r="2.15" fill="#1c45a2"/>
<circle cx="314.8" cy="167.7" r="2.15" fill="#1c45a2"/>
<circle cx="309" cy="216" r="2.15" fill="#1c45a2"/>
<circle cx="303.2" cy="219.3" r="2.15" fill="#1c45a2"/>
<circle cx="297.7" cy="218.8" r="2.15" fill="#1c45a2"/>
<circle cx="294.7" cy="220.5" r="2.15" fill="#1c45a2"/>
<circle cx="285.6" cy="225.1" r="2.15" fill="#1c45a2"/>
<circle cx="291.4" cy="225.1" r="2.15" fill="#1c45a2"/>
<circle cx="297.2" cy="225.1" r="2.15" fill="#1c45a2"/>
<circle cx="299.7" cy="224.3" r="2.15" fill="#1c45a2"/>
<circle cx="302.7" cy="225.1" r="2.15" fill="#1c45a2"/>
<circle cx="305.8" cy="225.1" r="2.15" fill="#1c45a2"/>
<circle cx="309" cy="225.1" r="2.15" fill="#1c45a2"/>
<circle cx="312.3" cy="224.6" r="2.15" fill="#1c45a2"/>
<circle cx="315.3" cy="225.1" r="2.15" fill="#1c45a2"/>
<circle cx="320.4" cy="225.1" r="2.15" fill="#1c45a2"/>
<line x1="278.8" y1="211" x2="327.9" y2="211" stroke="#333" stroke-width="1.35"/>
<line x1="374.8" y1="169.9" x2="374.8" y2="217.2" stroke="#e5000f" stroke-width="1.7"/>
<line x1="361.95" y1="169.9" x2="387.65" y2="169.9" stroke="#e5000f" stroke-width="1.7"/>
<line x1="361.95" y1="217.2" x2="387.65" y2="217.2" stroke="#e5000f" stroke-width="1.7"/>
<rect x="355.2" y="165.5" width="4.0" height="4.0" fill="#e5000f"/>
<rect x="361.6" y="165.5" width="4.0" height="4.0" fill="#e5000f"/>
<rect x="366.9" y="167.9" width="4.0" height="4.0" fill="#e5000f"/>
<rect x="369.6" y="165.5" width="4.0" height="4.0" fill="#e5000f"/>
<rect x="373.3" y="165.5" width="4.0" height="4.0" fill="#e5000f"/>
<rect x="376.8" y="165.5" width="4.0" height="4.0" fill="#e5000f"/>
<rect x="380.9" y="165.5" width="4.0" height="4.0" fill="#e5000f"/>
<rect x="384.9" y="165.5" width="4.0" height="4.0" fill="#e5000f"/>
<rect x="390" y="165.5" width="4.0" height="4.0" fill="#e5000f"/>
<rect x="372.8" y="170.8" width="4.0" height="4.0" fill="#e5000f"/>
<rect x="372.8" y="184.9" width="4.0" height="4.0" fill="#e5000f"/>
<rect x="378.4" y="184" width="4.0" height="4.0" fill="#e5000f"/>
<rect x="372.8" y="198.4" width="4.0" height="4.0" fill="#e5000f"/>
<rect x="372.8" y="207.7" width="4.0" height="4.0" fill="#e5000f"/>
<rect x="378.4" y="206.9" width="4.0" height="4.0" fill="#e5000f"/>
<rect x="372.8" y="214.9" width="4.0" height="4.0" fill="#e5000f"/>
<rect x="361.1" y="222.1" width="4.0" height="4.0" fill="#e5000f"/>
<rect x="366.9" y="222.9" width="4.0" height="4.0" fill="#e5000f"/>
<rect x="372.8" y="222.9" width="4.0" height="4.0" fill="#e5000f"/>
<rect x="378.4" y="222.9" width="4.0" height="4.0" fill="#e5000f"/>
<rect x="384.1" y="222.9" width="4.0" height="4.0" fill="#e5000f"/>
<line x1="350.5" y1="192.5" x2="399.2" y2="192.5" stroke="#111" stroke-width="1.35"/>
<text transform="translate(277.54,266.3) scale(0.981,1)" font-size="11.86" font-weight="bold" fill="#000" color="#000">FGL2</text>
<text transform="translate(310.98,262.6) scale(1.038,1)" font-size="8.55" font-weight="bold" fill="#000" color="#000">low</text>
<text transform="translate(346.35,266.3) scale(0.978,1)" font-size="11.86" font-weight="bold" fill="#000" color="#000">FGL2</text>
<text transform="translate(381.04,261.85) scale(1.126,1)" font-size="8.34" font-weight="bold" fill="#000" color="#000">high</text>
<text transform="translate(425.45,147) scale(0.928,1)" font-size="12.46" font-weight="bold" fill="#000" color="#000" style="stroke-width:0px">F</text>
<line x1="499.9" y1="160.3" x2="499.9" y2="252.4" stroke="#000" stroke-width="1.9"/>
<line x1="496.7" y1="161" x2="499.9" y2="161" stroke="#000" stroke-width="1.6"/>
<line x1="496.7" y1="191.2" x2="499.9" y2="191.2" stroke="#000" stroke-width="1.6"/>
<line x1="496.7" y1="221.4" x2="499.9" y2="221.4" stroke="#000" stroke-width="1.6"/>
<line x1="496.7" y1="251.7" x2="499.9" y2="251.7" stroke="#000" stroke-width="1.6"/>
<line x1="499.2" y1="251.8" x2="636.8" y2="251.8" stroke="#000" stroke-width="1.9"/>
<line x1="534" y1="251.8" x2="534" y2="255.5" stroke="#000" stroke-width="1.6"/>
<line x1="601.8" y1="251.8" x2="601.8" y2="255.5" stroke="#000" stroke-width="1.6"/>
<text transform="translate(476.53,163.7) scale(0.953,1)" font-size="11.29" font-weight="bold" fill="#000" color="#000">300</text>
<text transform="translate(476.42,193.9) scale(0.959,1)" font-size="11.29" font-weight="bold" fill="#000" color="#000">200</text>
<text transform="translate(476.08,224.1) scale(0.977,1)" font-size="11.29" font-weight="bold" fill="#000" color="#000">100</text>
<text transform="translate(484.14,254) scale(1.095,1)" font-size="10.57" font-weight="bold" fill="#000" color="#000">0</text>
<text transform="translate(464.9,227.68) rotate(-90) scale(1.116,1)" font-size="10.21" font-weight="bold" fill="#000" color="#000" style="stroke-width:0.35px">ALT(U/L)</text>
<line x1="531.3" y1="167.3" x2="607.4" y2="167.3" stroke="#000" stroke-width="1.7"/>
<text transform="translate(567.75,166.55) scale(0.950,1)" font-size="11.08" font-weight="bold" fill="#000" color="#000" style="stroke-width:0.2px">*</text>
<text transform="translate(572.65,166.55) scale(0.950,1)" font-size="11.08" font-weight="bold" fill="#000" color="#000" style="stroke-width:0.2px">*</text>
<line x1="534" y1="233.6" x2="534" y2="247" stroke="#1c45a2" stroke-width="1.7"/>
<line x1="522" y1="233.6" x2="546" y2="233.6" stroke="#1c45a2" stroke-width="1.7"/>
<line x1="522" y1="247" x2="546" y2="247" stroke="#1c45a2" stroke-width="1.7"/>
<circle cx="534" cy="222.7" r="2.15" fill="#1c45a2"/>
<circle cx="523.3" cy="231.3" r="2.15" fill="#1c45a2"/>
<circle cx="528.5" cy="232.5" r="2.15" fill="#1c45a2"/>
<circle cx="539.4" cy="232.5" r="2.15" fill="#1c45a2"/>
<circle cx="544.8" cy="231.6" r="2.15" fill="#1c45a2"/>
<circle cx="520.5" cy="237.3" r="2.15" fill="#1c45a2"/>
<circle cx="547.4" cy="236.1" r="2.15" fill="#1c45a2"/>
<circle cx="517.6" cy="239.1" r="2.15" fill="#1c45a2"/>
<circle cx="525.6" cy="238.2" r="2.15" fill="#1c45a2"/>
<circle cx="531.9" cy="239.1" r="2.15" fill="#1c45a2"/>
<circle cx="536.5" cy="238.4" r="2.15" fill="#1c45a2"/>
<circle cx="542.2" cy="238" r="2.15" fill="#1c45a2"/>
<circle cx="550.6" cy="239.1" r="2.15" fill="#1c45a2"/>
<circle cx="523.3" cy="241.9" r="2.15" fill="#1c45a2"/>
<circle cx="529" cy="241.4" r="2.15" fill="#1c45a2"/>
<circle cx="534" cy="241.6" r="2.15" fill="#1c45a2"/>
<circle cx="539.4" cy="241.6" r="2.15" fill="#1c45a2"/>
<circle cx="547.4" cy="242.6" r="2.15" fill="#1c45a2"/>
<circle cx="517.6" cy="245.1" r="2.15" fill="#1c45a2"/>
<circle cx="523.3" cy="245.6" r="2.15" fill="#1c45a2"/>
<circle cx="528.5" cy="244.8" r="2.15" fill="#1c45a2"/>
<circle cx="534" cy="244.5" r="2.15" fill="#1c45a2"/>
<circle cx="539.4" cy="244.8" r="2.15" fill="#1c45a2"/>
<circle cx="544.8" cy="246" r="2.15" fill="#1c45a2"/>
<circle cx="550.6" cy="246" r="2.15" fill="#1c45a2"/>
<circle cx="528.5" cy="247.4" r="2.15" fill="#1c45a2"/>
<circle cx="534" cy="247.9" r="2.15" fill="#1c45a2"/>
<circle cx="539.4" cy="247.6" r="2.15" fill="#1c45a2"/>
<line x1="511.3" y1="240.3" x2="557.1" y2="240.3" stroke="#111" stroke-width="1.35"/>
<line x1="601.8" y1="219.7" x2="601.8" y2="245.6" stroke="#e5000f" stroke-width="1.7"/>
<line x1="589.95" y1="219.7" x2="613.65" y2="219.7" stroke="#e5000f" stroke-width="1.7"/>
<line x1="589.95" y1="245.6" x2="613.65" y2="245.6" stroke="#e5000f" stroke-width="1.7"/>
<rect x="599.6" y="175.8" width="4.0" height="4.0" fill="#e5000f"/>
<rect x="599.8" y="212.4" width="4.0" height="4.0" fill="#e5000f"/>
<rect x="583.5" y="220.4" width="4.0" height="4.0" fill="#e5000f"/>
<rect x="588.9" y="222.7" width="4.0" height="4.0" fill="#e5000f"/>
<rect x="594.6" y="223.6" width="4.0" height="4.0" fill="#e5000f"/>
<rect x="599.8" y="224.8" width="4.0" height="4.0" fill="#e5000f"/>
<rect x="605.3" y="223.4" width="4.0" height="4.0" fill="#e5000f"/>
<rect x="611" y="221.3" width="4.0" height="4.0" fill="#e5000f"/>
<rect x="588.9" y="228.2" width="4.0" height="4.0" fill="#e5000f"/>
<rect x="594.6" y="229.9" width="4.0" height="4.0" fill="#e5000f"/>
<rect x="599.8" y="231.1" width="4.0" height="4.0" fill="#e5000f"/>
<rect x="605.5" y="231.1" width="4.0" height="4.0" fill="#e5000f"/>
<rect x="611" y="230.3" width="4.0" height="4.0" fill="#e5000f"/>
<rect x="583.5" y="236.4" width="4.0" height="4.0" fill="#e5000f"/>
<rect x="588.9" y="237.4" width="4.0" height="4.0" fill="#e5000f"/>
<rect x="591.7" y="233.3" width="4.0" height="4.0" fill="#e5000f"/>
<rect x="594.6" y="237.4" width="4.0" height="4.0" fill="#e5000f"/>
<rect x="599.8" y="235.6" width="4.0" height="4.0" fill="#e5000f"/>
<rect x="602.6" y="233.3" width="4.0" height="4.0" fill="#e5000f"/>
<rect x="605.5" y="236.8" width="4.0" height="4.0" fill="#e5000f"/>
<rect x="611" y="236.8" width="4.0" height="4.0" fill="#e5000f"/>
<rect x="616.4" y="236.8" width="4.0" height="4.0" fill="#e5000f"/>
<rect x="616.4" y="240.2" width="4.0" height="4.0" fill="#e5000f"/>
<rect x="588.9" y="240.2" width="4.0" height="4.0" fill="#e5000f"/>
<rect x="594.6" y="240.2" width="4.0" height="4.0" fill="#e5000f"/>
<rect x="599.8" y="239.6" width="4.0" height="4.0" fill="#e5000f"/>
<rect x="605.5" y="240.8" width="4.0" height="4.0" fill="#e5000f"/>
<rect x="611" y="240.8" width="4.0" height="4.0" fill="#e5000f"/>
<rect x="588.9" y="243" width="4.0" height="4.0" fill="#e5000f"/>
<rect x="594.6" y="242.5" width="4.0" height="4.0" fill="#e5000f"/>
<rect x="599.8" y="242" width="4.0" height="4.0" fill="#e5000f"/>
<rect x="605.5" y="243" width="4.0" height="4.0" fill="#e5000f"/>
<rect x="611" y="242.5" width="4.0" height="4.0" fill="#e5000f"/>
<rect x="599.8" y="245.4" width="4.0" height="4.0" fill="#e5000f"/>
<line x1="578.6" y1="232.5" x2="624.8" y2="232.5" stroke="#111" stroke-width="1.35"/>
<text transform="translate(512.83,268.6) scale(1.002,1)" font-size="11.86" font-weight="bold" fill="#000" color="#000">FGL2</text>
<text transform="translate(547.56,264.3) scale(1.067,1)" font-size="8.55" font-weight="bold" fill="#000" color="#000">low</text>
<text transform="translate(582.03,268.6) scale(0.995,1)" font-size="11.86" font-weight="bold" fill="#000" color="#000">FGL2</text>
<text transform="translate(615.88,264.07) scale(1.073,1)" font-size="8.24" font-weight="bold" fill="#000" color="#000">high</text>
<text transform="translate(1.52,300.2) scale(0.933,1)" font-size="12.86" font-weight="bold" fill="#000" color="#000">G</text>
<line x1="46.4" y1="327.2" x2="46.4" y2="419.5" stroke="#000" stroke-width="1.9"/>
<line x1="43.2" y1="327.9" x2="46.4" y2="327.9" stroke="#000" stroke-width="1.6"/>
<line x1="43.2" y1="350.6" x2="46.4" y2="350.6" stroke="#000" stroke-width="1.6"/>
<line x1="43.2" y1="373.4" x2="46.4" y2="373.4" stroke="#000" stroke-width="1.6"/>
<line x1="43.2" y1="396.1" x2="46.4" y2="396.1" stroke="#000" stroke-width="1.6"/>
<line x1="43.2" y1="418.8" x2="46.4" y2="418.8" stroke="#000" stroke-width="1.6"/>
<line x1="43.3" y1="418.8" x2="183.4" y2="418.8" stroke="#000" stroke-width="1.9"/>
<line x1="80.1" y1="418.8" x2="80.1" y2="422.5" stroke="#000" stroke-width="1.6"/>
<line x1="148" y1="418.8" x2="148" y2="422.5" stroke="#000" stroke-width="1.6"/>
<text transform="translate(24.21,330.6) scale(1.006,1)" font-size="11.00" font-weight="bold" fill="#000" color="#000">200</text>
<text transform="translate(24.28,353.3) scale(1.002,1)" font-size="11.00" font-weight="bold" fill="#000" color="#000">150</text>
<text transform="translate(24.17,376.1) scale(1.020,1)" font-size="11.00" font-weight="bold" fill="#000" color="#000">100</text>
<text transform="translate(28.37,398.8) scale(0.988,1)" font-size="11.00" font-weight="bold" fill="#000" color="#000">50</text>
<text transform="translate(32.16,421.5) scale(0.995,1)" font-size="11.00" font-weight="bold" fill="#000" color="#000">0</text>
<text transform="translate(9.7,392.89) rotate(-90) scale(1.202,1)" font-size="9.52" font-weight="bold" fill="#000" color="#000" style="stroke-width:0.35px">AST(U/L)</text>
<line x1="72.3" y1="330.5" x2="148.6" y2="330.5" stroke="#000" stroke-width="1.7"/>
<text transform="translate(106.05,328.59) scale(0.833,1)" font-size="12.16" font-weight="bold" fill="#000" color="#000" style="stroke-width:0.2px">*</text>
<text transform="translate(110.8,328.59) scale(0.833,1)" font-size="12.16" font-weight="bold" fill="#000" color="#000" style="stroke-width:0.2px">*</text>
<line x1="80.2" y1="391.4" x2="80.2" y2="410" stroke="#1c45a2" stroke-width="1.7"/>
<line x1="68.25" y1="391.4" x2="92.15" y2="391.4" stroke="#1c45a2" stroke-width="1.7"/>
<line x1="68.25" y1="410" x2="92.15" y2="410" stroke="#1c45a2" stroke-width="1.7"/>
<circle cx="85.8" cy="379.4" r="2.15" fill="#1c45a2"/>
<circle cx="80.2" cy="383.2" r="2.15" fill="#1c45a2"/>
<circle cx="74.5" cy="389.5" r="2.15" fill="#1c45a2"/>
<circle cx="80.2" cy="390.4" r="2.15" fill="#1c45a2"/>
<circle cx="85.8" cy="388.2" r="2.15" fill="#1c45a2"/>
<circle cx="74.5" cy="397" r="2.15" fill="#1c45a2"/>
<circle cx="63.8" cy="402.1" r="2.15" fill="#1c45a2"/>
<circle cx="69.5" cy="403.7" r="2.15" fill="#1c45a2"/>
<circle cx="74.5" cy="405.2" r="2.15" fill="#1c45a2"/>
<circle cx="80.2" cy="406.5" r="2.15" fill="#1c45a2"/>
<circle cx="85.8" cy="399.6" r="2.15" fill="#1c45a2"/>
<circle cx="85.8" cy="403.7" r="2.15" fill="#1c45a2"/>
<circle cx="90.9" cy="402.5" r="2.15" fill="#1c45a2"/>
<circle cx="96.5" cy="402.5" r="2.15" fill="#1c45a2"/>
<circle cx="69.5" cy="407.7" r="2.15" fill="#1c45a2"/>
<circle cx="96.5" cy="407.5" r="2.15" fill="#1c45a2"/>
<circle cx="74.5" cy="410.5" r="2.15" fill="#1c45a2"/>
<circle cx="80.2" cy="412.8" r="2.15" fill="#1c45a2"/>
<circle cx="85.8" cy="411.5" r="2.15" fill="#1c45a2"/>
<circle cx="90.9" cy="410.5" r="2.15" fill="#1c45a2"/>
<circle cx="80.2" cy="400.5" r="2.15" fill="#1c45a2"/>
<line x1="57.3" y1="400.6" x2="103.5" y2="400.6" stroke="#333" stroke-width="1.35"/>
<line x1="147.9" y1="368.9" x2="147.9" y2="406.3" stroke="#e5000f" stroke-width="1.7"/>
<line x1="135.55" y1="368.9" x2="160.25" y2="368.9" stroke="#e5000f" stroke-width="1.7"/>
<line x1="135.55" y1="406.3" x2="160.25" y2="406.3" stroke="#e5000f" stroke-width="1.7"/>
<rect x="145.9" y="339.5" width="4.0" height="4.0" fill="#e5000f"/>
<rect x="145.9" y="356.6" width="4.0" height="4.0" fill="#e5000f"/>
<rect x="140.4" y="360.8" width="4.0" height="4.0" fill="#e5000f"/>
<rect x="145.9" y="364.9" width="4.0" height="4.0" fill="#e5000f"/>
<rect x="151.9" y="371.5" width="4.0" height="4.0" fill="#e5000f"/>
<rect x="145.9" y="376.3" width="4.0" height="4.0" fill="#e5000f"/>
<rect x="140.4" y="377.9" width="4.0" height="4.0" fill="#e5000f"/>
<rect x="145.9" y="383.7" width="4.0" height="4.0" fill="#e5000f"/>
<rect x="140.4" y="386" width="4.0" height="4.0" fill="#e5000f"/>
<rect x="145.9" y="389.8" width="4.0" height="4.0" fill="#e5000f"/>
<rect x="151.9" y="390.5" width="4.0" height="4.0" fill="#e5000f"/>
<rect x="135.2" y="391.7" width="4.0" height="4.0" fill="#e5000f"/>
<rect x="151.9" y="392.8" width="4.0" height="4.0" fill="#e5000f"/>
<rect x="140.4" y="395.1" width="4.0" height="4.0" fill="#e5000f"/>
<rect x="145.9" y="395.8" width="4.0" height="4.0" fill="#e5000f"/>
<rect x="145.9" y="400.8" width="4.0" height="4.0" fill="#e5000f"/>
<rect x="135.2" y="403.1" width="4.0" height="4.0" fill="#e5000f"/>
<rect x="140.4" y="404.3" width="4.0" height="4.0" fill="#e5000f"/>
<rect x="145.9" y="405.4" width="4.0" height="4.0" fill="#e5000f"/>
<rect x="151.9" y="405.9" width="4.0" height="4.0" fill="#e5000f"/>
<rect x="157.4" y="404.3" width="4.0" height="4.0" fill="#e5000f"/>
<rect x="162.6" y="403.1" width="4.0" height="4.0" fill="#e5000f"/>
<line x1="125" y1="387.3" x2="170.8" y2="387.3" stroke="#111" stroke-width="1.35"/>
<text transform="translate(55.06,434.6) scale(0.988,1)" font-size="11.57" font-weight="bold" fill="#000" color="#000">FGL2</text>
<text transform="translate(87.95,430.2) scale(1.144,1)" font-size="8.14" font-weight="bold" fill="#000" color="#000">low</text>
<text transform="translate(124.25,434.6) scale(1.002,1)" font-size="11.57" font-weight="bold" fill="#000" color="#000">FGL2</text>
<text transform="translate(158.26,430.04) scale(1.149,1)" font-size="7.91" font-weight="bold" fill="#000" color="#000">high</text>
<text transform="translate(195.45,300) scale(0.947,1)" font-size="12.17" font-weight="bold" fill="#000" color="#000" style="stroke-width:0px">H</text>
<line x1="269.7" y1="326.1" x2="269.7" y2="418" stroke="#000" stroke-width="1.9"/>
<line x1="266.5" y1="326.8" x2="269.7" y2="326.8" stroke="#000" stroke-width="1.6"/>
<line x1="266.5" y1="344.9" x2="269.7" y2="344.9" stroke="#000" stroke-width="1.6"/>
<line x1="266.5" y1="363" x2="269.7" y2="363" stroke="#000" stroke-width="1.6"/>
<line x1="266.5" y1="381.1" x2="269.7" y2="381.1" stroke="#000" stroke-width="1.6"/>
<line x1="266.5" y1="399.2" x2="269.7" y2="399.2" stroke="#000" stroke-width="1.6"/>
<line x1="266.5" y1="417.3" x2="269.7" y2="417.3" stroke="#000" stroke-width="1.6"/>
<line x1="266.6" y1="417.3" x2="405.6" y2="417.3" stroke="#000" stroke-width="1.9"/>
<line x1="303.4" y1="417.3" x2="303.4" y2="421" stroke="#000" stroke-width="1.6"/>
<line x1="371.7" y1="417.3" x2="371.7" y2="421" stroke="#000" stroke-width="1.6"/>
<text transform="translate(251.26,329.6) scale(1.018,1)" font-size="11.14" font-weight="bold" fill="#000" color="#000">50</text>
<text transform="translate(251.43,347.7) scale(1.004,1)" font-size="11.14" font-weight="bold" fill="#000" color="#000">40</text>
<text transform="translate(251.32,365.8) scale(1.013,1)" font-size="11.14" font-weight="bold" fill="#000" color="#000">30</text>
<text transform="translate(251.2,383.9) scale(1.023,1)" font-size="11.14" font-weight="bold" fill="#000" color="#000">20</text>
<text transform="translate(250.84,402) scale(1.054,1)" font-size="11.14" font-weight="bold" fill="#000" color="#000">10</text>
<text transform="translate(255.56,420.1) scale(0.982,1)" font-size="11.14" font-weight="bold" fill="#000" color="#000">0</text>
<text transform="translate(233.1,395.07) rotate(-90) scale(1.091,1)" font-size="10.76" font-weight="bold" fill="#000" color="#000" style="stroke-width:0.35px">GLB(g/L)</text>
<line x1="295.7" y1="323.9" x2="372.3" y2="323.9" stroke="#000" stroke-width="1.7"/>
<text transform="translate(329.74,321.21) scale(0.929,1)" font-size="11.89" font-weight="bold" fill="#000" color="#000" style="stroke-width:0.2px">*</text>
<line x1="303.6" y1="359.9" x2="303.6" y2="378.2" stroke="#1c45a2" stroke-width="1.7"/>
<line x1="292.1" y1="359.9" x2="315.1" y2="359.9" stroke="#1c45a2" stroke-width="1.7"/>
<line x1="292.1" y1="378.2" x2="315.1" y2="378.2" stroke="#1c45a2" stroke-width="1.7"/>
<circle cx="298.1" cy="352.6" r="2.15" fill="#1c45a2"/>
<circle cx="303.6" cy="355.8" r="2.15" fill="#1c45a2"/>
<circle cx="287.2" cy="359.5" r="2.15" fill="#1c45a2"/>
<circle cx="292.7" cy="360.3" r="2.15" fill="#1c45a2"/>
<circle cx="298.1" cy="361.3" r="2.15" fill="#1c45a2"/>
<circle cx="303.6" cy="361.3" r="2.15" fill="#1c45a2"/>
<circle cx="306.4" cy="359.2" r="2.15" fill="#1c45a2"/>
<circle cx="309.1" cy="361.3" r="2.15" fill="#1c45a2"/>
<circle cx="314.6" cy="360.9" r="2.15" fill="#1c45a2"/>
<circle cx="320.1" cy="359.9" r="2.15" fill="#1c45a2"/>
<circle cx="300.9" cy="366.1" r="2.15" fill="#1c45a2"/>
<circle cx="306.4" cy="366.1" r="2.15" fill="#1c45a2"/>
<circle cx="287.2" cy="367.2" r="2.15" fill="#1c45a2"/>
<circle cx="292.7" cy="368.6" r="2.15" fill="#1c45a2"/>
<circle cx="298.1" cy="370.2" r="2.15" fill="#1c45a2"/>
<circle cx="303.6" cy="368.1" r="2.15" fill="#1c45a2"/>
<circle cx="309.1" cy="369.1" r="2.15" fill="#1c45a2"/>
<circle cx="314.6" cy="368.6" r="2.15" fill="#1c45a2"/>
<circle cx="320.1" cy="367.2" r="2.15" fill="#1c45a2"/>
<circle cx="320.1" cy="372.3" r="2.15" fill="#1c45a2"/>
<circle cx="292.7" cy="375" r="2.15" fill="#1c45a2"/>
<circle cx="292.7" cy="377.1" r="2.15" fill="#1c45a2"/>
<circle cx="298.1" cy="376.4" r="2.15" fill="#1c45a2"/>
<circle cx="303.6" cy="376.4" r="2.15" fill="#1c45a2"/>
<circle cx="309.1" cy="377.1" r="2.15" fill="#1c45a2"/>
<circle cx="314.6" cy="375.4" r="2.15" fill="#1c45a2"/>
<circle cx="298.1" cy="381.2" r="2.15" fill="#1c45a2"/>
<circle cx="303.6" cy="382.3" r="2.15" fill="#1c45a2"/>
<circle cx="303.6" cy="396" r="2.15" fill="#1c45a2"/>
<line x1="280.3" y1="369.1" x2="327" y2="369.1" stroke="#111" stroke-width="1.35"/>
<line x1="371.3" y1="353.5" x2="371.3" y2="372.3" stroke="#e5000f" stroke-width="1.7"/>
<line x1="359.95" y1="353.5" x2="382.65" y2="353.5" stroke="#e5000f" stroke-width="1.7"/>
<line x1="359.95" y1="372.3" x2="382.65" y2="372.3" stroke="#e5000f" stroke-width="1.7"/>
<rect x="364.1" y="344.7" width="4.0" height="4.0" fill="#e5000f"/>
<rect x="369.6" y="347" width="4.0" height="4.0" fill="#e5000f"/>
<rect x="358.6" y="348.4" width="4.0" height="4.0" fill="#e5000f"/>
<rect x="380.6" y="350.2" width="4.0" height="4.0" fill="#e5000f"/>
<rect x="385.8" y="348.1" width="4.0" height="4.0" fill="#e5000f"/>
<rect x="364.1" y="351.9" width="4.0" height="4.0" fill="#e5000f"/>
<rect x="375.1" y="352.9" width="4.0" height="4.0" fill="#e5000f"/>
<rect x="353.1" y="356.6" width="4.0" height="4.0" fill="#e5000f"/>
<rect x="358.6" y="357.7" width="4.0" height="4.0" fill="#e5000f"/>
<rect x="364.1" y="359.1" width="4.0" height="4.0" fill="#e5000f"/>
<rect x="375.1" y="357.7" width="4.0" height="4.0" fill="#e5000f"/>
<rect x="380.6" y="356.6" width="4.0" height="4.0" fill="#e5000f"/>
<rect x="369.6" y="361.8" width="4.0" height="4.0" fill="#e5000f"/>
<rect x="353.1" y="364.9" width="4.0" height="4.0" fill="#e5000f"/>
<rect x="358.6" y="365.3" width="4.0" height="4.0" fill="#e5000f"/>
<rect x="364.1" y="363.9" width="4.0" height="4.0" fill="#e5000f"/>
<rect x="369.6" y="365.3" width="4.0" height="4.0" fill="#e5000f"/>
<rect x="375.1" y="363.9" width="4.0" height="4.0" fill="#e5000f"/>
<rect x="380.6" y="366.2" width="4.0" height="4.0" fill="#e5000f"/>
<rect x="385.8" y="364.9" width="4.0" height="4.0" fill="#e5000f"/>
<rect x="364.1" y="368" width="4.0" height="4.0" fill="#e5000f"/>
<rect x="369.6" y="368.7" width="4.0" height="4.0" fill="#e5000f"/>
<rect x="375.1" y="369" width="4.0" height="4.0" fill="#e5000f"/>
<rect x="364.1" y="372.1" width="4.0" height="4.0" fill="#e5000f"/>
<rect x="369.6" y="374.2" width="4.0" height="4.0" fill="#e5000f"/>
<rect x="369.6" y="380" width="4.0" height="4.0" fill="#e5000f"/>
<rect x="375.1" y="378.6" width="4.0" height="4.0" fill="#e5000f"/>
<line x1="348.2" y1="363.4" x2="394.6" y2="363.4" stroke="#111" stroke-width="1.35"/>
<text transform="translate(274.13,436.1) scale(1.019,1)" font-size="11.57" font-weight="bold" fill="#000" color="#000">FGL2</text>
<text transform="translate(307.95,431.7) scale(1.023,1)" font-size="9.10" font-weight="bold" fill="#000" color="#000">low</text>
<text transform="translate(343.54,436.1) scale(1.005,1)" font-size="11.57" font-weight="bold" fill="#000" color="#000">FGL2</text>
<text transform="translate(378.06,431.61) scale(1.023,1)" font-size="8.98" font-weight="bold" fill="#000" color="#000">high</text>
<text transform="translate(425.45,300) scale(1.076,1)" font-size="12.17" font-weight="bold" fill="#000" color="#000" style="stroke-width:0px">I</text>
<line x1="501.5" y1="326.2" x2="501.5" y2="417.7" stroke="#000" stroke-width="1.9"/>
<line x1="498.3" y1="326.9" x2="501.5" y2="326.9" stroke="#000" stroke-width="1.6"/>
<line x1="498.3" y1="349.4" x2="501.5" y2="349.4" stroke="#000" stroke-width="1.6"/>
<line x1="498.3" y1="371.9" x2="501.5" y2="371.9" stroke="#000" stroke-width="1.6"/>
<line x1="498.3" y1="394.5" x2="501.5" y2="394.5" stroke="#000" stroke-width="1.6"/>
<line x1="498.3" y1="417" x2="501.5" y2="417" stroke="#000" stroke-width="1.6"/>
<line x1="498.5" y1="417" x2="638.4" y2="417" stroke="#000" stroke-width="1.9"/>
<line x1="535.5" y1="417" x2="535.5" y2="420.7" stroke="#000" stroke-width="1.6"/>
<line x1="603.4" y1="417" x2="603.4" y2="420.7" stroke="#000" stroke-width="1.6"/>
<text transform="translate(478.83,328.9) scale(1.096,1)" font-size="10.14" font-weight="bold" fill="#000" color="#000">400</text>
<text transform="translate(478.72,351.4) scale(1.103,1)" font-size="10.14" font-weight="bold" fill="#000" color="#000">300</text>
<text transform="translate(478.61,373.9) scale(1.110,1)" font-size="10.14" font-weight="bold" fill="#000" color="#000">200</text>
<text transform="translate(478.25,396.5) scale(1.131,1)" font-size="10.14" font-weight="bold" fill="#000" color="#000">100</text>
<text transform="translate(486.16,419) scale(1.079,1)" font-size="10.14" font-weight="bold" fill="#000" color="#000">0</text>
<text transform="translate(465,398.15) rotate(-90) scale(1.039,1)" font-size="10.90" font-weight="bold" fill="#000" color="#000" style="stroke-width:0.35px">GGT(U/L)</text>
<line x1="531.3" y1="329.5" x2="608.1" y2="329.5" stroke="#000" stroke-width="1.7"/>
<text transform="translate(565.75,324.36) scale(0.913,1)" font-size="10.81" font-weight="bold" fill="#000" color="#000" style="stroke-width:0.2px">*</text>
<text transform="translate(570.4,324.36) scale(0.913,1)" font-size="10.81" font-weight="bold" fill="#000" color="#000" style="stroke-width:0.2px">*</text>
<line x1="535.7" y1="388.9" x2="535.7" y2="412.8" stroke="#1c45a2" stroke-width="1.7"/>
<line x1="523.7" y1="388.9" x2="547.7" y2="388.9" stroke="#1c45a2" stroke-width="1.7"/>
<line x1="523.7" y1="412.8" x2="547.7" y2="412.8" stroke="#1c45a2" stroke-width="1.7"/>
<circle cx="535.7" cy="358.5" r="2.15" fill="#1c45a2"/>
<circle cx="530.3" cy="390.8" r="2.15" fill="#1c45a2"/>
<circle cx="535.7" cy="391.3" r="2.15" fill="#1c45a2"/>
<circle cx="525" cy="394" r="2.15" fill="#1c45a2"/>
<circle cx="530.3" cy="397.7" r="2.15" fill="#1c45a2"/>
<circle cx="541" cy="398.8" r="2.15" fill="#1c45a2"/>
<circle cx="546.6" cy="397.7" r="2.15" fill="#1c45a2"/>
<circle cx="519.4" cy="402.5" r="2.15" fill="#1c45a2"/>
<circle cx="525" cy="402.8" r="2.15" fill="#1c45a2"/>
<circle cx="535.7" cy="402.8" r="2.15" fill="#1c45a2"/>
<circle cx="541" cy="404.1" r="2.15" fill="#1c45a2"/>
<circle cx="546.6" cy="402.8" r="2.15" fill="#1c45a2"/>
<circle cx="552.2" cy="402.5" r="2.15" fill="#1c45a2"/>
<circle cx="530.3" cy="405.2" r="2.15" fill="#1c45a2"/>
<circle cx="535.7" cy="406.8" r="2.15" fill="#1c45a2"/>
<circle cx="525" cy="410" r="2.15" fill="#1c45a2"/>
<circle cx="546.6" cy="410" r="2.15" fill="#1c45a2"/>
<circle cx="552.2" cy="409.2" r="2.15" fill="#1c45a2"/>
<circle cx="530.3" cy="411.6" r="2.15" fill="#1c45a2"/>
<circle cx="535.7" cy="413.2" r="2.15" fill="#1c45a2"/>
<circle cx="541" cy="412.1" r="2.15" fill="#1c45a2"/>
<line x1="512.7" y1="401.2" x2="559.1" y2="401.2" stroke="#111" stroke-width="1.35"/>
<line x1="603.7" y1="371.8" x2="603.7" y2="402.5" stroke="#e5000f" stroke-width="1.7"/>
<line x1="591.55" y1="371.8" x2="615.85" y2="371.8" stroke="#e5000f" stroke-width="1.7"/>
<line x1="591.55" y1="402.5" x2="615.85" y2="402.5" stroke="#e5000f" stroke-width="1.7"/>
<rect x="601.8" y="346.1" width="4.0" height="4.0" fill="#e5000f"/>
<rect x="601.8" y="355.2" width="4.0" height="4.0" fill="#e5000f"/>
<rect x="601.8" y="364.6" width="4.0" height="4.0" fill="#e5000f"/>
<rect x="601.8" y="373.3" width="4.0" height="4.0" fill="#e5000f"/>
<rect x="591.1" y="381.9" width="4.0" height="4.0" fill="#e5000f"/>
<rect x="596.1" y="380.5" width="4.0" height="4.0" fill="#e5000f"/>
<rect x="601.8" y="381.9" width="4.0" height="4.0" fill="#e5000f"/>
<rect x="607" y="381.9" width="4.0" height="4.0" fill="#e5000f"/>
<rect x="612.5" y="380.5" width="4.0" height="4.0" fill="#e5000f"/>
<rect x="596.1" y="387.7" width="4.0" height="4.0" fill="#e5000f"/>
<rect x="601.8" y="387.7" width="4.0" height="4.0" fill="#e5000f"/>
<rect x="607" y="385.6" width="4.0" height="4.0" fill="#e5000f"/>
<rect x="601.8" y="393.5" width="4.0" height="4.0" fill="#e5000f"/>
<rect x="607" y="393.5" width="4.0" height="4.0" fill="#e5000f"/>
<rect x="596.1" y="400.1" width="4.0" height="4.0" fill="#e5000f"/>
<rect x="601.8" y="400.1" width="4.0" height="4.0" fill="#e5000f"/>
<rect x="607" y="403.1" width="4.0" height="4.0" fill="#e5000f"/>
<rect x="601.8" y="406.2" width="4.0" height="4.0" fill="#e5000f"/>
<line x1="580.8" y1="387" x2="626.5" y2="387" stroke="#111" stroke-width="1.35"/>
<text transform="translate(509.14,436.3) scale(0.981,1)" font-size="11.86" font-weight="bold" fill="#000" color="#000">FGL2</text>
<text transform="translate(542.58,432.4) scale(0.975,1)" font-size="9.10" font-weight="bold" fill="#000" color="#000">low</text>
<text transform="translate(577.84,436.3) scale(0.981,1)" font-size="11.86" font-weight="bold" fill="#000" color="#000">FGL2</text>
<text transform="translate(612.16,431.61) scale(1.012,1)" font-size="8.98" font-weight="bold" fill="#000" color="#000">high</text>
</g>
</svg>
</body></html>
